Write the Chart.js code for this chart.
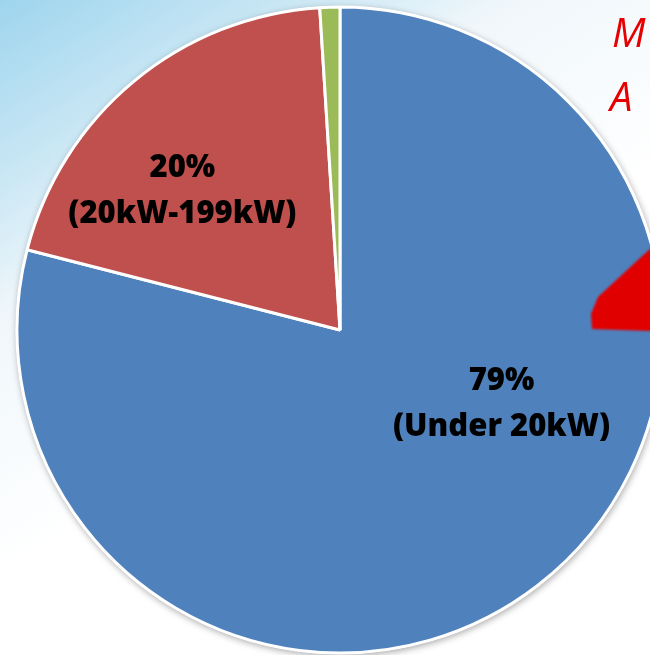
<!DOCTYPE html>
<html>
<head>
<meta charset="utf-8">
<script src="https://cdn.jsdelivr.net/npm/chart.js@4/dist/chart.umd.min.js"></script>
<style>
  html, body { margin: 0; padding: 0; background: #fff; }
  canvas { display: block; }
</style>
</head>
<body>
<canvas id="sizeChart" width="650" height="655"></canvas>
<script>
// System size classes and their share of installations (%)
const sizeClasses = ['Under 20kW', '20kW-199kW', '200kW and over'];
const shares = [79, 20, 1];
const labelledSlices = [0, 1];

const sliceColors = ['#4f81bd', '#c0504d', '#9bbb59'];

// Label anchors, as fractions of the radius from the pie centre
const labelAnchors = {
  0: { dx: 0.50, dy: 0.186 },
  1: { dx: -0.488, dy: -0.474 }
};

// Page background: pale blue wash from the top-left corner
const backgroundPlugin = {
  id: 'backgroundWash',
  beforeDraw(chart) {
    const ctx = chart.ctx;
    const g = ctx.createLinearGradient(0, 0, 260, 420);
    g.addColorStop(0, 'rgb(158,213,238)');
    g.addColorStop(0.3, 'rgb(200,230,244)');
    g.addColorStop(0.55, 'rgb(240,247,251)');
    g.addColorStop(1, '#ffffff');
    ctx.save();
    ctx.fillStyle = g;
    ctx.fillRect(0, 0, chart.width, chart.height);
    ctx.restore();
  }
};

// Soft drop shadow under the whole pie
const shadowPlugin = {
  id: 'pieShadow',
  beforeDatasetsDraw(chart) {
    const arc = chart.getDatasetMeta(0).data[0];
    if (!arc) return;
    const ctx = chart.ctx;
    ctx.save();
    ctx.shadowColor = 'rgba(0,0,0,0.35)';
    ctx.shadowBlur = 7;
    ctx.shadowOffsetX = 1;
    ctx.shadowOffsetY = 2;
    ctx.fillStyle = '#ffffff';
    ctx.beginPath();
    ctx.arc(arc.x, arc.y, arc.outerRadius + 1, 0, Math.PI * 2);
    ctx.fill();
    ctx.restore();
  }
};

// Two-line value labels inside the large slices
const sliceLabelPlugin = {
  id: 'sliceLabels',
  afterDatasetsDraw(chart) {
    const meta = chart.getDatasetMeta(0);
    const ctx = chart.ctx;
    ctx.save();
    ctx.fillStyle = '#000';
    ctx.textAlign = 'center';
    ctx.textBaseline = 'alphabetic';
    ctx.font = '800 31px "Open Sans", sans-serif';
    ctx.letterSpacing = '0px';
    labelledSlices.forEach(i => {
      const arc = meta.data[i];
      const a = labelAnchors[i];
      const x = arc.x + a.dx * arc.outerRadius;
      const y = arc.y + a.dy * arc.outerRadius;
      ctx.fillText(shares[i] + '%', x, y);
      ctx.fillText('(' + sizeClasses[i] + ')', x, y + 46);
    });
    ctx.restore();
  }
};

// Hand-drawn red notes at the right edge
const notesPlugin = {
  id: 'notes',
  afterDraw(chart) {
    const ctx = chart.ctx;
    ctx.save();
    ctx.fillStyle = '#e60000';
    ctx.font = 'italic 40px "Open Sans", sans-serif';
    ctx.textAlign = 'left';
    ctx.fillText('M', 612, 47);
    ctx.fillText('A', 610, 111);

    ctx.filter = 'blur(0.8px)';
    ctx.fillStyle = '#e00000';
    ctx.beginPath();
    ctx.moveTo(660, 240);
    ctx.lineTo(640, 258);
    ctx.lineTo(598, 297);
    ctx.lineTo(591, 314);
    ctx.lineTo(592, 329);
    ctx.lineTo(650, 331);
    ctx.lineTo(660, 331);
    ctx.closePath();
    ctx.fill();
    ctx.restore();
  }
};

const chart = new Chart(document.getElementById('sizeChart'), {
  type: 'pie',
  data: {
    labels: sizeClasses,
    datasets: [{
      data: shares,
      backgroundColor: sliceColors,
      borderColor: '#ffffff',
      borderWidth: 3
    }]
  },
  options: {
    responsive: false,
    animation: false,
    radius: 323,
    layout: { padding: { left: 30, top: 5, right: 0, bottom: 0 } },
    plugins: {
      legend: { display: false },
      tooltip: { enabled: false }
    }
  },
  plugins: [backgroundPlugin, shadowPlugin, sliceLabelPlugin, notesPlugin]
});
</script>
</body>
</html>
